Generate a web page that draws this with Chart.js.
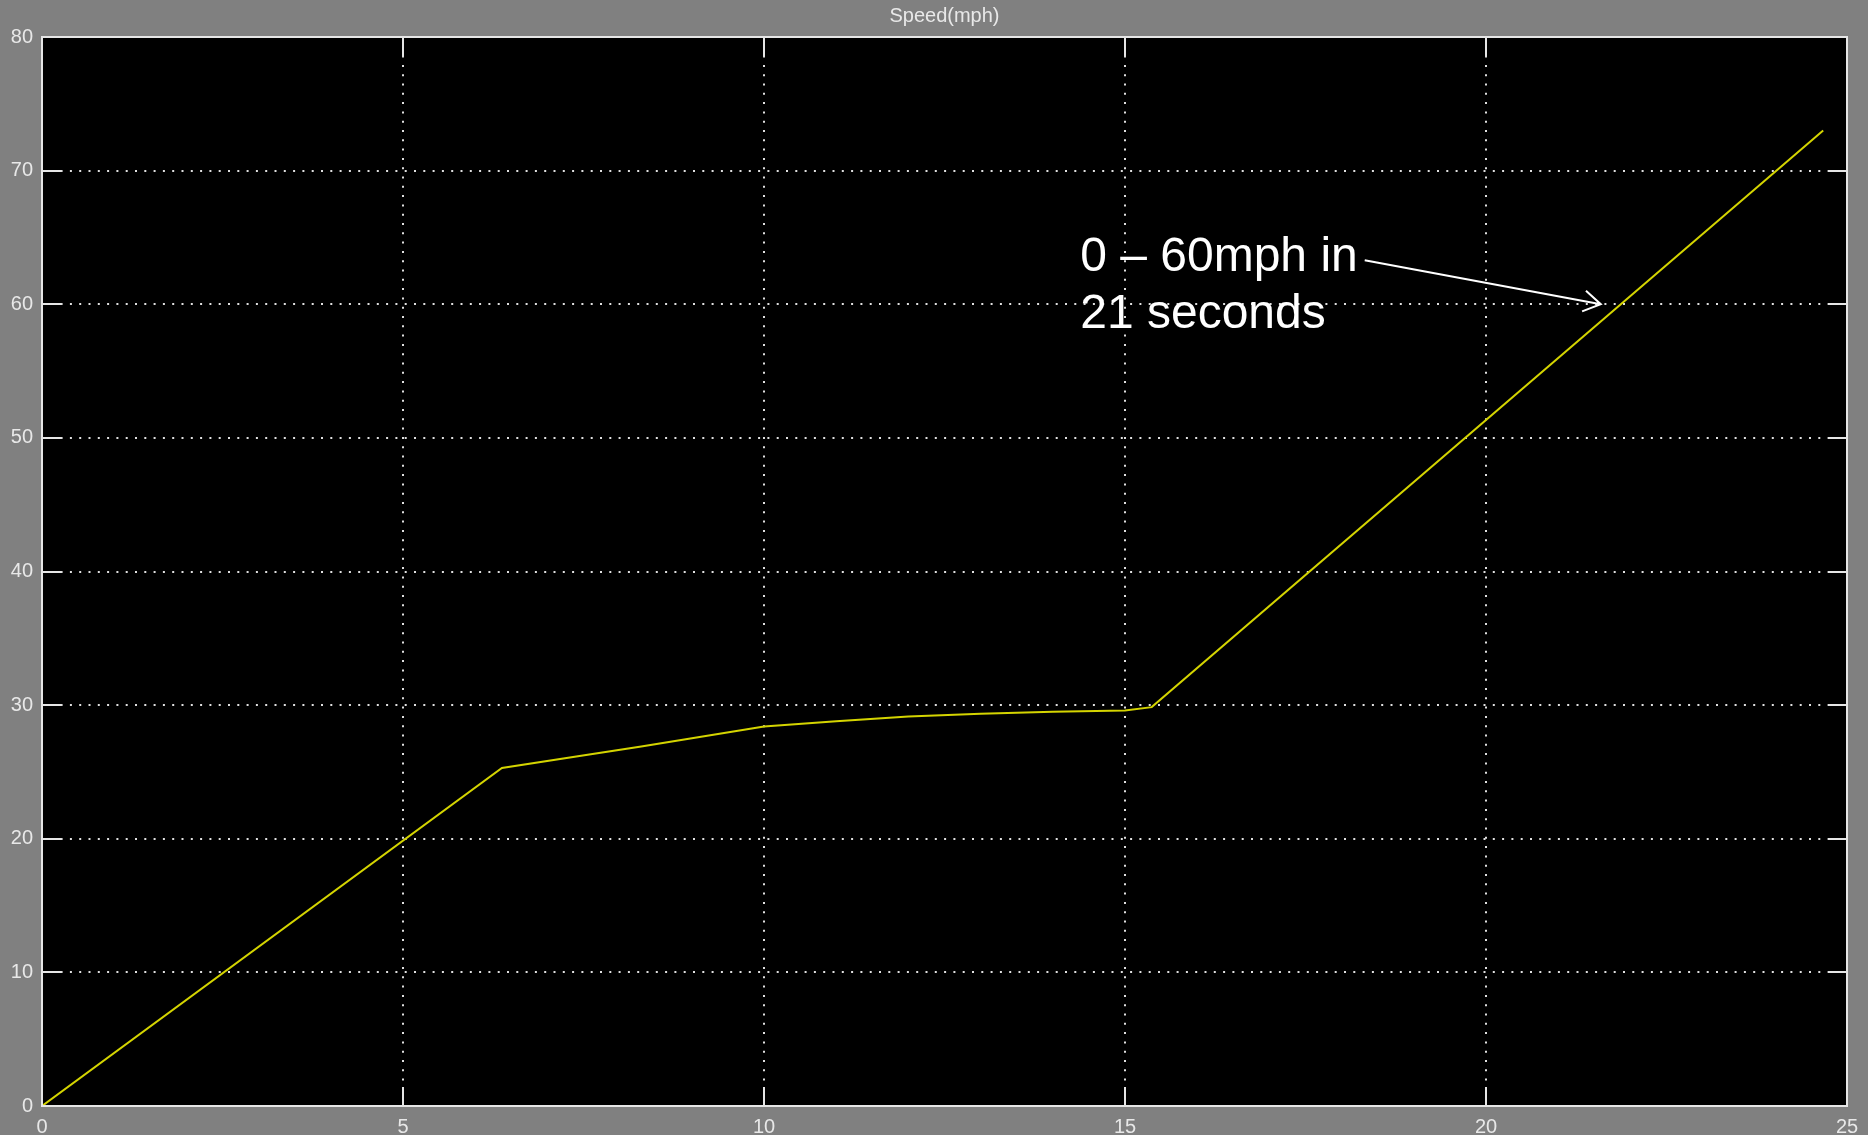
<!DOCTYPE html>
<html>
<head>
<meta charset="utf-8">
<script src="https://cdn.jsdelivr.net/npm/chart.js@4/dist/chart.umd.min.js"></script>
<style>
  html, body { margin: 0; padding: 0; background: #808080; overflow: hidden; }
  #wrap { width: 1868px; height: 1135px; }
</style>
</head>
<body>
<div id="wrap"><canvas id="speedChart"></canvas></div>
<script>
// time (s) and speed (mph)
const timeSec = [0, 6.37, 7.4, 8.3, 10, 11, 12, 13, 14, 15, 15.37, 24.67];
const speedMph = [0, 25.3, 26.15, 26.9, 28.4, 28.8, 29.15, 29.35, 29.5, 29.6, 29.85, 73.0];

const xTicks = [0, 5, 10, 15, 20, 25];
const yTicks = [0, 10, 20, 30, 40, 50, 60, 70, 80];

const titleText = 'Speed(mph)';
const noteLines = ['0 \u2013 60mph in', '21 seconds'];
// annotation anchor points in data units
const noteAt = { x: 14.38, y: 62.5 };
const arrowFrom = { x: 18.32, y: 63.3 };
const arrowTo = { x: 21.59, y: 60.0 };

const points = timeSec.map((t, i) => ({ x: t, y: speedMph[i] }));

// grey window, black axes box
const scopeBackground = {
  id: 'scopeBackground',
  beforeDraw(chart) {
    const { ctx, chartArea } = chart;
    ctx.save();
    ctx.fillStyle = '#808080';
    ctx.fillRect(0, 0, chart.width, chart.height);
    ctx.fillStyle = '#000000';
    ctx.fillRect(chartArea.left, chartArea.top,
      chartArea.right - chartArea.left, chartArea.bottom - chartArea.top);
    ctx.restore();
  },
};

// frame, inward tick marks, and the 0-60 note
const scopeFrame = {
  id: 'scopeFrame',
  afterDraw(chart) {
    const { ctx, chartArea } = chart;
    const xs = chart.scales.x;
    const ys = chart.scales.y;
    const len = 19;
    ctx.save();
    ctx.strokeStyle = '#e6e6e6';
    ctx.lineWidth = 2;
    ctx.beginPath();
    yTicks.forEach((v) => {
      const py = Math.round(ys.getPixelForValue(v));
      ctx.moveTo(chartArea.left, py);
      ctx.lineTo(chartArea.left + len, py);
      ctx.moveTo(chartArea.right, py);
      ctx.lineTo(chartArea.right - len, py);
    });
    xTicks.forEach((v) => {
      const px = Math.round(xs.getPixelForValue(v));
      ctx.moveTo(px, chartArea.bottom);
      ctx.lineTo(px, chartArea.bottom - len);
      ctx.moveTo(px, chartArea.top);
      ctx.lineTo(px, chartArea.top + len);
    });
    ctx.stroke();
    ctx.strokeRect(chartArea.left, chartArea.top,
      chartArea.right - chartArea.left, chartArea.bottom - chartArea.top);

    // annotation text
    ctx.fillStyle = '#ffffff';
    ctx.font = '48px "Liberation Sans", Arial, sans-serif';
    ctx.textBaseline = 'alphabetic';
    ctx.textAlign = 'left';
    const tx = xs.getPixelForValue(noteAt.x);
    const ty = ys.getPixelForValue(noteAt.y);
    noteLines.forEach((line, i) => {
      ctx.fillText(line, tx, ty + i * 57);
    });

    // arrow
    const ax0 = xs.getPixelForValue(arrowFrom.x);
    const ay0 = ys.getPixelForValue(arrowFrom.y);
    const ax1 = xs.getPixelForValue(arrowTo.x);
    const ay1 = ys.getPixelForValue(arrowTo.y);
    const ang = Math.atan2(ay1 - ay0, ax1 - ax0);
    const head = 20;
    ctx.strokeStyle = '#ffffff';
    ctx.lineWidth = 2;
    ctx.beginPath();
    ctx.moveTo(ax0, ay0);
    ctx.lineTo(ax1, ay1);
    ctx.moveTo(ax1 - head * Math.cos(ang - 0.55), ay1 - head * Math.sin(ang - 0.55));
    ctx.lineTo(ax1, ay1);
    ctx.lineTo(ax1 - head * Math.cos(ang + 0.55), ay1 - head * Math.sin(ang + 0.55));
    ctx.stroke();
    ctx.restore();
  },
};

const ctx = document.getElementById('speedChart');
const speedChart = new Chart(ctx, {
  type: 'line',
  data: {
    datasets: [
      {
        label: 'Speed',
        data: points,
        borderColor: '#d4d400',
        borderWidth: 2,
        pointRadius: 0,
        fill: false,
        tension: 0,
      },
    ],
  },
  options: {
    responsive: true,
    maintainAspectRatio: false,
    animation: false,
    events: [],
    layout: { padding: { left: 0, right: 21, top: 0, bottom: 0 } },
    plugins: {
      legend: { display: false },
      tooltip: { enabled: false },
      title: {
        display: true,
        fullSize: false,
        text: titleText,
        color: '#e8e8e8',
        font: { family: '"Liberation Sans", Arial, sans-serif', size: 20, weight: 'normal' },
        padding: { top: 4, bottom: 9 },
      },
    },
    scales: {
      x: {
        type: 'linear',
        min: 0,
        max: 25,
        afterBuildTicks(scale) {
          scale.ticks = xTicks.map((v) => ({ value: v }));
        },
        afterFit(scale) {
          scale.height = 29;
        },
        ticks: {
          color: '#e8e8e8',
          padding: 9,
          maxRotation: 0,
          font: { family: '"Liberation Sans", Arial, sans-serif', size: 20 },
        },
        grid: {
          color: '#e0e0e0',
          lineWidth: 2,
          drawTicks: false,
        },
        border: { display: false, dash: [2, 7.3] },
      },
      y: {
        type: 'linear',
        min: 0,
        max: 80,
        afterBuildTicks(scale) {
          scale.ticks = yTicks.map((v) => ({ value: v }));
        },
        afterFit(scale) {
          scale.width = 42;
        },
        ticks: {
          color: '#e8e8e8',
          padding: 9,
          font: { family: '"Liberation Sans", Arial, sans-serif', size: 20 },
        },
        grid: {
          color: '#e0e0e0',
          lineWidth: 2,
          drawTicks: false,
        },
        border: { display: false, dash: [2, 7.3] },
      },
    },
  },
  plugins: [scopeBackground, scopeFrame],
});
</script>
</body>
</html>
